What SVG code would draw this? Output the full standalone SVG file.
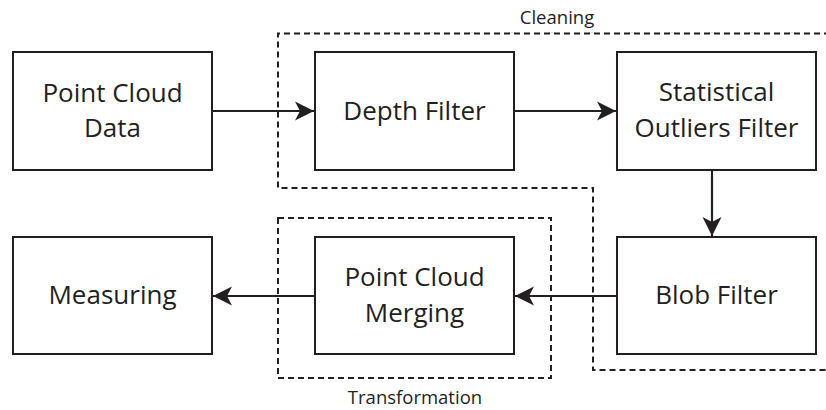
<svg xmlns="http://www.w3.org/2000/svg" width="826" height="410" viewBox="0 0 826 410">
<style>
.box{fill:#fff;stroke:#231f20;stroke-width:2}
.t{font-family:"Open Sans","Noto Sans",sans-serif;font-size:26px;fill:#231f20;text-anchor:middle}
.lbl{font-family:"Open Sans","Noto Sans",sans-serif;font-size:18.5px;fill:#231f20;text-anchor:middle}
.dash{fill:none;stroke:#231f20;stroke-width:2;stroke-dasharray:6 4}
.c{fill:none;stroke:#231f20;stroke-width:2.2}
</style>
<defs>
<marker id="ah" markerUnits="userSpaceOnUse" markerWidth="22" markerHeight="22" viewBox="-21 -11 22 22" refX="0" refY="0" orient="auto">
<path d="M0,0 L-19,-9.5 L-14,0 L-19,9.5 Z" fill="#231f20"/>
</marker>
</defs>
<g id="groups">
<path id="cleaning" class="dash" d="M830,33.5 H278 V188 H593 V370 H830"/>
<rect id="transformation" class="dash" x="278" y="218" width="273" height="160"/>
<text class="lbl" x="557" y="24">Cleaning</text>
<text class="lbl" x="415" y="404">Transformation</text>
</g>
<g id="connectors">
<line class="c" x1="212" y1="111" x2="314" y2="111" marker-end="url(#ah)"/>
<line class="c" x1="514" y1="111" x2="616" y2="111" marker-end="url(#ah)"/>
<line class="c" x1="712" y1="170" x2="712" y2="236" marker-end="url(#ah)"/>
<line class="c" x1="617" y1="296" x2="515" y2="296" marker-end="url(#ah)"/>
<line class="c" x1="315" y1="296" x2="213" y2="296" marker-end="url(#ah)"/>
</g>
<g id="pcd"><rect class="box" x="13" y="52" width="199" height="118"/><text class="t" x="112.5" y="102">Point Cloud</text><text class="t" x="112.5" y="137">Data</text></g>
<g id="depth"><rect class="box" x="315" y="52" width="199" height="118"/><text class="t" x="414.5" y="120">Depth Filter</text></g>
<g id="stat"><rect class="box" x="617" y="52" width="199" height="118"/><text class="t" x="716.5" y="101">Statistical</text><text class="t" x="716.5" y="137">Outliers Filter</text></g>
<g id="measuring"><rect class="box" x="13" y="237" width="199" height="117"/><text class="t" x="112.5" y="304">Measuring</text></g>
<g id="merging"><rect class="box" x="315" y="237" width="199" height="117"/><text class="t" x="414.5" y="286">Point Cloud</text><text class="t" x="414.5" y="322">Merging</text></g>
<g id="blob"><rect class="box" x="617" y="237" width="199" height="117"/><text class="t" x="716.5" y="304">Blob Filter</text></g>
</svg>
